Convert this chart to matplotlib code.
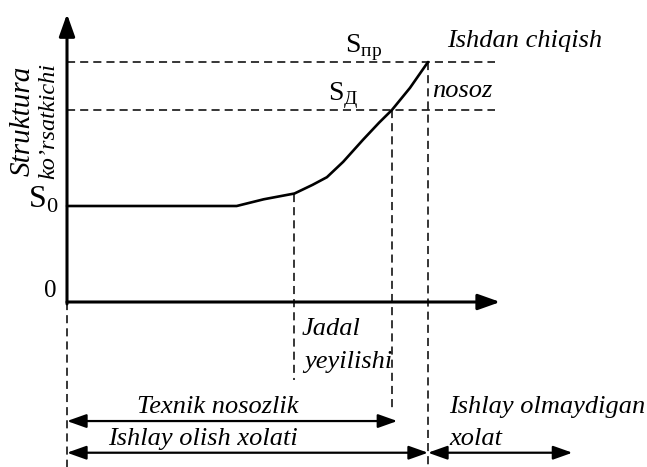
import matplotlib
matplotlib.use("Agg")
import matplotlib.pyplot as plt

plt.rcParams['font.family'] = ['Liberation Serif', 'DejaVu Serif']
plt.rcParams['mathtext.fontset'] = 'custom'
plt.rcParams['mathtext.rm'] = 'Liberation Serif'

# structure indicator S over time t (chart units)
t_curve = [0, 4.7, 5.45, 6.3, 6.8, 7.2, 7.65, 8.2, 8.65, 9.0, 9.5, 10.0]
s_curve = [1.0, 1.0, 1.07, 1.13, 1.22, 1.30, 1.46, 1.69, 1.87, 2.0, 2.23, 2.5]

S0, S_d, S_pr = 1.0, 2.0, 2.5
t_jadal, t_d, t_pr = 6.3, 9.0, 10.0
t_axis_end, s_axis_end = 12.0, 3.0
t_dash_end = 11.85
t_olmay_end = 14.0

fig = plt.figure(figsize=(6.47, 4.67), dpi=100)
ax = fig.add_axes([0, 0, 1, 1])
ax.set_xlim(-67 / 36.1, 580 / 36.1)
ax.set_ylim(-165 / 96, 302 / 96)
ax.set_axis_off()

dash = (0, (5.3, 3.3))
dlw = 1.1

# axes with arrows
ax_arr = dict(arrowstyle="-|>,head_length=0.9,head_width=0.32", lw=2.2, color="black",
              mutation_scale=15, shrinkA=0, shrinkB=0)
ax.annotate("", xy=(t_axis_end, 0), xytext=(0, 0), arrowprops=ax_arr)
ax.annotate("", xy=(0, s_axis_end), xytext=(0, -0.02), arrowprops=ax_arr)

# curve
ax.plot(t_curve, s_curve, color="black", lw=1.9, solid_joinstyle="round", solid_capstyle="round")

# horizontal dashed levels
for s in (S_pr, S_d):
    ax.plot([0, t_dash_end], [s, s], color="black", lw=dlw, linestyle=dash)

# vertical dashed lines
ax.plot([0, 0], [0, -1.75], color="black", lw=dlw, linestyle=dash)
ax.plot([t_jadal, t_jadal], [s_curve[t_curve.index(t_jadal)], -0.81], color="black", lw=dlw, linestyle=dash)
ax.plot([t_d, t_d], [S_d, -1.15], color="black", lw=dlw, linestyle=dash)
ax.plot([t_pr, t_pr], [S_pr, -1.75], color="black", lw=dlw, linestyle=dash)

# span arrows
arr = dict(arrowstyle="<|-|>,head_length=0.9,head_width=0.32", lw=1.6, color="black",
           mutation_scale=13, shrinkA=0, shrinkB=0)
ax.annotate("", xy=(t_d + 0.15, -1.24), xytext=(0, -1.24), arrowprops=arr)
ax.annotate("", xy=(t_pr, -1.57), xytext=(0, -1.57), arrowprops=arr)
ax.annotate("", xy=(t_olmay_end, -1.57), xytext=(t_pr, -1.57), arrowprops=arr)

it = dict(style="italic", fontsize=19, va="baseline", ha="left")
ax.text(10.53, 2.66, "Ishdan chiqish", **it)
ax.text(10.11, 2.14, "nosoz", **it)
ax.text(6.5, -0.34, "Jadal", **it)
ax.text(6.56, -0.69, "yeyilishi", **it)
ax.text(1.94, -1.16, "Texnik nosozlik", **it)
ax.text(1.14, -1.49, "Ishlay olish xolati", **it)
ax.text(10.58, -1.16, "Ishlay olmaydigan", **it)
ax.text(10.58, -1.49, "xolat", **it)

ax.text(7.7, 2.6, r"$\mathrm{S}_{\mathrm{пр}}$", fontsize=20, va="baseline", ha="left")
ax.text(7.23, 2.1, r"$\mathrm{S}_{\mathrm{Д}}$", fontsize=20, va="baseline", ha="left")
ax.text(-0.25, 0.98, r"$\mathrm{S}_{0}$", fontsize=23, va="baseline", ha="right")
ax.text(-0.28, 0.05, "0", fontsize=18, va="baseline", ha="right")

ax.text(-1.22, 1.89, "Struktura", style="italic", fontsize=21, rotation=90, ha="center", va="center")
ax.text(-0.5, 1.89, "ko\u2019rsatkichi", style="italic", fontsize=17.5, rotation=90, ha="center", va="center")

fig.savefig("out.png", dpi=100)
